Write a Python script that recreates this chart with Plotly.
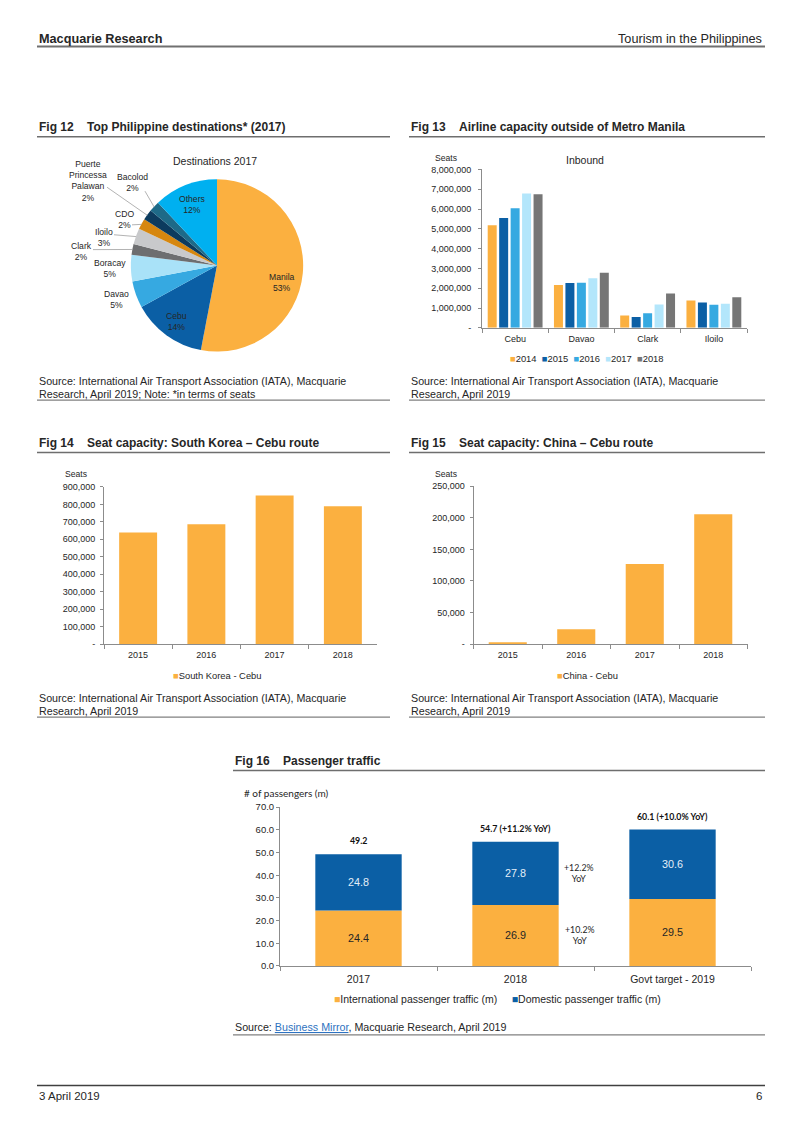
import math
import plotly.graph_objects as go

W, H = 802, 1133
def X(p): return p / W
def Y(p): return 1 - p / H

FONT = "Liberation Sans, Arial, sans-serif"
CAL = "Lato, Liberation Sans, sans-serif"
TXT = "#262626"
AXC = "#8c8c8c"
ORANGE = "#FBB040"
DBLUE = "#0B5FA5"

# ---------------- Data ----------------
# Fig 12 pie
pie_labels = ["Manila", "Cebu", "Davao", "Boracay", "Clark", "Iloilo", "CDO",
              "Puerte Princessa Palawan", "Bacolod", "Others"]
pie_text = ["Manila", "Cebu", "Davao", "Boracay", "Clark", "Iloilo", "CDO",
            "Puerte<br>Princessa<br>Palawan", "Bacolod", "Others"]
pie_values = [53, 14, 5, 5, 2, 3, 2, 2, 2, 12]
pie_colors = ["#FBB040", "#0B5FA5", "#36A9E1", "#A9E2F8", "#6D6E70", "#C8C9CB",
              "#D6870F", "#0C3B5E", "#1E6A88", "#00B0F0"]

# Fig 13 grouped bars
cap_regions = ["Cebu", "Davao", "Clark", "Iloilo"]
cap_years = ["2014", "2015", "2016", "2017", "2018"]
cap_2014 = [5180000, 2160000, 620000, 1380000]
cap_2015 = [5550000, 2270000, 550000, 1280000]
cap_2016 = [6040000, 2280000, 740000, 1170000]
cap_2017 = [6780000, 2510000, 1180000, 1220000]
cap_2018 = [6740000, 2780000, 1730000, 1540000]
cap_colors = ["#FBB040", "#0B5FA5", "#36A9E1", "#B3E6FB", "#767676"]
cap_ticks = [0, 1000000, 2000000, 3000000, 4000000, 5000000, 6000000, 7000000, 8000000]
cap_ticktext = ["-", "1,000,000", "2,000,000", "3,000,000", "4,000,000",
                "5,000,000", "6,000,000", "7,000,000", "8,000,000"]

# Fig 14
kr_years = ["2015", "2016", "2017", "2018"]
kr_seats = [639000, 686000, 851000, 790000]
kr_ticks = [0, 100000, 200000, 300000, 400000, 500000, 600000, 700000, 800000, 900000]
kr_ticktext = ["-", "100,000", "200,000", "300,000", "400,000", "500,000",
               "600,000", "700,000", "800,000", "900,000"]

# Fig 15
cn_years = ["2015", "2016", "2017", "2018"]
cn_seats = [3000, 23500, 127000, 205500]
cn_ticks = [0, 50000, 100000, 150000, 200000, 250000]
cn_ticktext = ["-", "50,000", "100,000", "150,000", "200,000", "250,000"]

# Fig 16
pax_cats = ["2017", "2018", "Govt target - 2019"]
pax_intl = [24.4, 26.9, 29.5]
pax_dom = [24.8, 27.8, 30.6]
pax_notes = ["", " (+11.2% YoY)", " (+10.0% YoY)"]
pax_ticks = [0, 10, 20, 30, 40, 50, 60, 70]

fig = go.Figure()

# ---------------- Fig 12 pie ----------------
PCX, PCY, PR = 217, 262, 87
fig.add_trace(go.Pie(labels=pie_labels, values=pie_values, sort=False,
                     direction="clockwise", rotation=0,
                     marker=dict(colors=pie_colors, line=dict(width=0)),
                     textinfo="none", showlegend=False,
                     domain=dict(x=[X(PCX - PR), X(PCX + PR)], y=[Y(PCY + PR), Y(PCY - PR)])))

# ---------------- Fig 13 ----------------
for yr, vals, col in zip(cap_years, [cap_2014, cap_2015, cap_2016, cap_2017, cap_2018], cap_colors):
    fig.add_trace(go.Bar(x=cap_regions, y=vals, name=yr, marker=dict(color=col, line=dict(width=0)),
                         xaxis="x", yaxis="y", showlegend=False))

# ---------------- Fig 14 / 15 ----------------
fig.add_trace(go.Bar(x=kr_years, y=kr_seats, name="South Korea - Cebu", width=0.556, offset=-0.278,
                     marker=dict(color=ORANGE, line=dict(width=0)), xaxis="x2", yaxis="y2", showlegend=False))
fig.add_trace(go.Bar(x=cn_years, y=cn_seats, name="China - Cebu", width=0.556, offset=-0.278,
                     marker=dict(color=ORANGE, line=dict(width=0)), xaxis="x3", yaxis="y3", showlegend=False))

# ---------------- Fig 16 ----------------
fig.add_trace(go.Bar(x=pax_cats, y=pax_intl, name="International passenger traffic (m)",
                     width=0.55, offset=-0.275, marker=dict(color=ORANGE, line=dict(width=0)),
                     text=[f"{v:.1f}" for v in pax_intl], textposition="inside",
                     insidetextanchor="middle", textangle=0,
                     textfont=dict(family=FONT, size=10.8, color=TXT),
                     xaxis="x4", yaxis="y4", showlegend=False))
fig.add_trace(go.Bar(x=pax_cats, y=pax_dom, base=pax_intl, name="Domestic passenger traffic (m)",
                     width=0.55, offset=-0.275, marker=dict(color=DBLUE, line=dict(width=0)),
                     text=[f"{v:.1f}" for v in pax_dom], textposition="inside",
                     insidetextanchor="middle", textangle=0,
                     textfont=dict(family=FONT, size=10.8, color="#E4EEF8"),
                     xaxis="x4", yaxis="y4", showlegend=False))

# ---------------- Axes ----------------
def xax(x0, x1, anchor, size, cats, standoff):
    return dict(domain=[X(x0), X(x1)], anchor=anchor, type="category", showline=True,
                categoryorder="array", categoryarray=cats, range=[-0.5, len(cats) - 0.5],
                linecolor=AXC, linewidth=1, ticks="outside", ticklen=4, tickcolor=AXC,
                tickson="boundaries", showgrid=False, zeroline=False, fixedrange=True,
                ticklabelstandoff=standoff,
                tickangle=0, tickfont=dict(family=FONT, size=size, color=TXT))

def yax(y0, y1, anchor, rng, tv, tt, size, standoff):
    return dict(domain=[Y(y1), Y(y0)], anchor=anchor, range=rng, showline=True,
                linecolor=AXC, linewidth=1, ticks="outside", ticklen=3, tickcolor=AXC,
                tickvals=tv, ticktext=tt, showgrid=False, zeroline=False, fixedrange=True,
                ticklabelstandoff=standoff,
                tickfont=dict(family=FONT, size=size, color=TXT))

fig.update_layout(
    xaxis=xax(482, 747, "y", 9, cap_regions, 2),
    yaxis=yax(165, 325, "x", [0, 8000000], cap_ticks, cap_ticktext, 9, 5),
    xaxis2=xax(104, 377, "y2", 9, kr_years, 2),
    yaxis2=yax(485.7, 644.3, "x2", [0, 900000], kr_ticks, kr_ticktext, 9, 3),
    xaxis3=xax(473.5, 747.5, "y3", 9, cn_years, 2),
    yaxis3=yax(485, 644.3, "x3", [0, 250000], cn_ticks, cn_ticktext, 9, 3),
    xaxis4=xax(280, 751, "y4", 10.5, pax_cats, 4),
    yaxis4=yax(809, 969.3, "x4", [0, 70], pax_ticks, [f"{t:.1f}" for t in pax_ticks], 9.5, 0),
)

# ---------------- Annotations & shapes ----------------
ann = []
shapes = []

def text(x, y, s, size=10.7, bold=False, xanchor="left", yanchor="middle", color=TXT, family=FONT):
    ann.append(dict(x=X(x), y=Y(y), xref="paper", yref="paper", text=(f"<b>{s}</b>" if bold else s),
                    showarrow=False, xanchor=xanchor, yanchor=yanchor,
                    align=xanchor if xanchor != "center" else "center",
                    font=dict(family=family, size=size, color=color)))

def hline(x0, x1, y, w=1.5, c="#6e6e6e"):
    shapes.append(dict(type="line", xref="paper", yref="paper", x0=X(x0), x1=X(x1), y0=Y(y), y1=Y(y),
                       line=dict(color=c, width=w)))

# header / footer
text(37, 33, "Macquarie Research", 12.7, bold=True)
text(764, 33, "Tourism in the Philippines", 12.7, xanchor="right")
hline(37, 765, 41, 2, "#707070")
hline(37, 765, 1090, 1.5, "#404040")
text(37, 1101, "3 April 2019", 11.5)
text(764, 1101, "6", 11.5, xanchor="right")

# figure titles
titles = [(37, 122, "Fig 12", "Top Philippine destinations* (2017)", 390, 132),
          (409, 122, "Fig 13", "Airline capacity outside of Metro Manila", 765, 132),
          (37, 441, "Fig 14", "Seat capacity: South Korea \u2013 Cebu route", 390, 451),
          (409, 441, "Fig 15", "Seat capacity: China \u2013 Cebu route", 765, 451),
          (233, 762, "Fig 16", "Passenger traffic", 765, 772)]
for x, y, f, t, xe, ly in titles:
    text(x, y, f, 12, bold=True)
    text(x + 48, y, t, 12, bold=True)
    hline(x, xe, ly, 1.5, "#6e6e6e")

# sources
src_a = "Source: International Air Transport Association (IATA), Macquarie"
for x, y, l2, xe, ly in [(37, 379, "Research, April 2019; Note: *in terms of seats", 390, 398),
                         (409, 379, "Research, April 2019", 765, 398),
                         (37, 699, "Research, April 2019", 390, 718),
                         (409, 699, "Research, April 2019", 765, 718)]:
    text(x, y, src_a, 10.7)
    text(x, y + 13, l2, 10.7)
    hline(x, xe, ly, 1.2, "#808080")
text(233, 1031, "Source: <span style='color:#2E72C0'><u>Business Mirror</u></span>, Macquarie Research, April 2019", 10.7)
hline(233, 765, 1039, 1.2, "#808080")

# Fig 12 pie labels
text(215, 157, "Destinations 2017", 10.5, xanchor="center")
pie_pos = [(282, 279), (176, 319), (117, 296), (110, 265), (81, 248), (104, 234), (124, 216),
           (88, 177), (132, 178), (192, 200)]
for lab, v, (x, y) in zip(pie_text, pie_values, pie_pos):
    text(x, y, f"{lab}<br>{v}%", 8.6, xanchor="center")
# leader lines for small outer slices
leader_start = {"Clark": (93, 246), "Iloilo": (114, 231), "CDO": (132, 221),
                "Puerte Princessa Palawan": (107, 183), "Bacolod": (145, 187)}
tot = sum(pie_values)
cum = 0
for lab, v in zip(pie_labels, pie_values):
    mid = (cum + v / 2) / tot
    cum += v
    if lab in leader_start:
        ex = PCX + PR * 0.99 * math.sin(2 * math.pi * mid)
        ey = PCY - PR * 0.99 * math.cos(2 * math.pi * mid)
        sx, sy = leader_start[lab]
        shapes.append(dict(type="line", xref="paper", yref="paper", x0=X(sx), y0=Y(sy), x1=X(ex), y1=Y(ey),
                           line=dict(color="#a0a0a0", width=0.8)))

# Fig 13 labels / legend
text(446, 153, "Seats", 8.6, xanchor="center")
text(585, 156, "Inbound", 10.5, xanchor="center")
leg13 = "\u00a0\u00a0".join(f"<span style='color:{c}'>\u25a0</span>{y}" for y, c in zip(cap_years, cap_colors))
text(587, 356, leg13, 9.4, xanchor="center")

# Fig 14 / 15 labels / legends
text(76, 473, "Seats", 8.6, xanchor="center")
text(445.5, 473, "Seats", 8.6, xanchor="center")
text(217.5, 676, f"<span style='color:{ORANGE}'>\u25a0</span>South Korea - Cebu", 9.4, xanchor="center")
text(587, 676, f"<span style='color:{ORANGE}'>\u25a0</span>China - Cebu", 9.4, xanchor="center")

# Fig 16 labels (category axis annotations use the category index)
text(242, 795, "# of passengers (m)", 10, family=CAL)
for i, (a, b, n) in enumerate(zip(pax_intl, pax_dom, pax_notes)):
    ann.append(dict(x=i, y=a + b, xref="x4", yref="y4", text=f"<b>{a + b:.1f}{n}</b>", showarrow=False,
                    xanchor="center", yanchor="bottom", yshift=6,
                    font=dict(family=CAL, size=8.8, color="#111111")))
text(579, 875, "+12.2%<br>YoY", 8.8, xanchor="center", family=CAL)
text(580, 938, "+10.2%<br>YoY", 8.8, xanchor="center", family=CAL)
leg16 = (f"<span style='color:{ORANGE}'>\u25a0</span>International passenger traffic (m)"
         "\u00a0\u00a0\u00a0\u00a0\u00a0"
         f"<span style='color:{DBLUE}'>\u25a0</span>Domestic passenger traffic (m)")
text(497, 1003, leg16, 10.5, xanchor="center")

fig.update_layout(
    width=W, height=H, margin=dict(l=0, r=0, t=0, b=0),
    paper_bgcolor="white", plot_bgcolor="white",
    barmode="group", bargap=0.135, bargroupgap=0.215,
    font=dict(family=FONT, color=TXT),
    annotations=ann, shapes=shapes, showlegend=False,
)

fig.write_html("out.html", config={"displayModeBar": False},
               post_script="document.body.style.margin='0';document.body.style.overflow='hidden';")
